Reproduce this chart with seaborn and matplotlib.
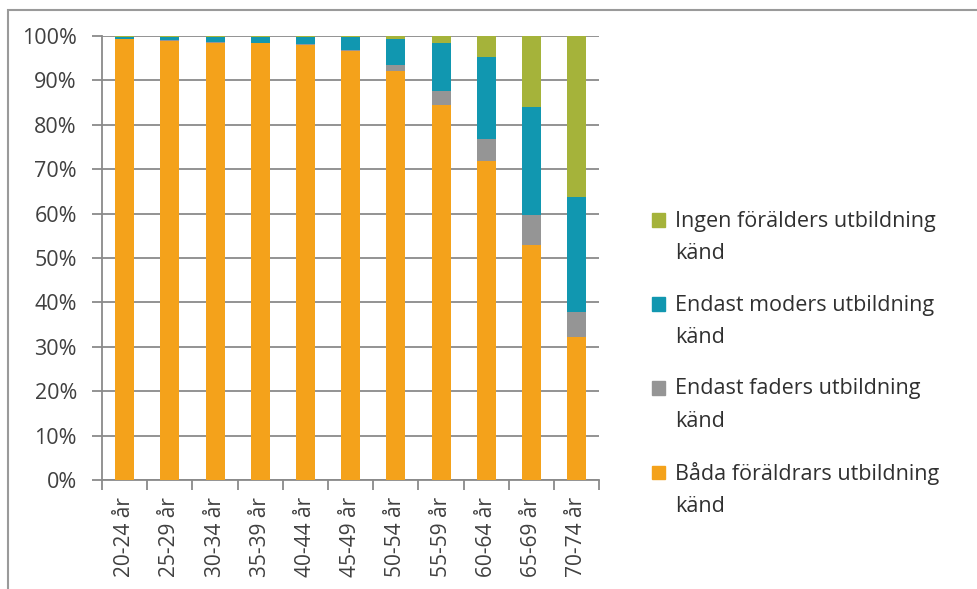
"""Stacked share of known parental education by age group."""
import numpy as np
import pandas as pd
import matplotlib.pyplot as plt
from matplotlib.patches import Rectangle, Patch
from matplotlib.legend_handler import HandlerPatch
import seaborn as sns

AGES = ["20-24 år", "25-29 år", "30-34 år", "35-39 år", "40-44 år", "45-49 år",
        "50-54 år", "55-59 år", "60-64 år", "65-69 år", "70-74 år"]
BADA   = [99.2, 98.9, 98.5, 98.3, 97.9, 96.6, 92.1, 84.5, 71.8, 52.9, 32.1]
FADER  = [0.1, 0.1, 0.2, 0.2, 0.3, 0.3, 1.4, 3.1, 5.0, 6.8, 5.8]
MODER  = [0.5, 0.8, 1.1, 1.3, 1.5, 2.8, 5.8, 10.9, 18.5, 24.3, 25.8]
INGEN  = [0.2, 0.2, 0.2, 0.2, 0.3, 0.3, 0.7, 1.5, 4.7, 16.0, 36.3]

SERIES = ["Båda föräldrars utbildning\nkänd", "Endast faders utbildning\nkänd",
          "Endast moders utbildning\nkänd", "Ingen förälders utbildning\nkänd"]
COLORS = ["#F4A21B", "#959595", "#1197B0", "#A5B33A"]

df = pd.DataFrame({"age": AGES, "b": BADA, "f": FADER, "m": MODER, "i": INGEN})
cum = df[["b", "f", "m", "i"]].cumsum(axis=1)

plt.rcParams["font.family"] = ["Open Sans", "DejaVu Sans"]
fig = plt.figure(figsize=(9.77, 5.89), dpi=100)
ax = fig.add_axes([0.1044, 0.185, 0.509, 0.754])

# draw from the top layer down so each bar covers the one beneath
for col, color in reversed(list(zip(["b", "f", "m", "i"], COLORS))):
    sns.barplot(x=df["age"], y=cum[col], color=color, width=0.42,
                saturation=1, ax=ax, zorder=3, edgecolor="none")

ax.set_ylim(0, 100)
ax.set_xlim(-0.5, len(AGES) - 0.5)
ax.set_yticks(np.arange(0, 101, 10))
ax.set_yticklabels([f"{v}%" for v in range(0, 101, 10)])
ax.yaxis.grid(True, color="#8a8a8a", lw=1.3, zorder=0)
ax.set_axisbelow(True)
ax.set_xlabel("")
ax.set_ylabel("")
for s in ["top", "right"]:
    ax.spines[s].set_visible(False)
for s in ["left", "bottom"]:
    ax.spines[s].set_color("#8a8a8a")
    ax.spines[s].set_linewidth(1.3)

ax.tick_params(axis="y", length=7, width=1.3, color="#8a8a8a",
               labelsize=15.5, labelcolor="#404040", pad=11)
ax.set_xticks(range(len(AGES)))
ax.set_xticklabels(AGES, rotation=90)
ax.tick_params(axis="x", which="major", length=0, labelsize=15,
               labelcolor="#404040", pad=12)
ax.set_xticks(np.arange(-0.5, len(AGES), 1), minor=True)
ax.tick_params(axis="x", which="minor", length=7, width=1.3, color="#8a8a8a")


# legend squares sit beside the first line of each two-line label
def first_line_square(legend, orig_handle, xdescent, ydescent, width, height, fontsize):
    return Rectangle((-xdescent, -ydescent + fontsize * 0.82), width, height)


handles = [Patch(color=c) for c in COLORS]
leg = fig.legend(handles[::-1], SERIES[::-1], loc="upper left",
                 bbox_to_anchor=(0.648, 0.675), frameon=False,
                 fontsize=15.5, handlelength=0.6, handleheight=0.6,
                 handletextpad=0.45, labelspacing=1.42,
                 handler_map={Patch: HandlerPatch(patch_func=first_line_square)})
for t in leg.get_texts():
    t.set_color("#303030")
    t.set_linespacing(1.7)

fig.patches.append(Rectangle((8 / 977, -0.1), 1.2, 1.083, transform=fig.transFigure,
                             fill=False, edgecolor="#9a9a9a", lw=1.5))

fig.savefig("out.png", dpi=100)
